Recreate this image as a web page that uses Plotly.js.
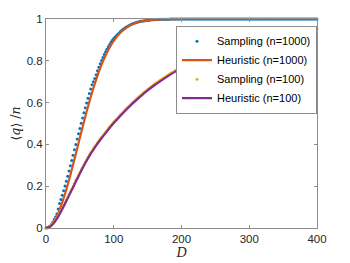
<!DOCTYPE html>
<html>
<head>
<meta charset="utf-8">
<script src="https://cdn.plot.ly/plotly-3.0.1.min.js"></script>
<style>
html,body{margin:0;padding:0;background:#fff;}
#chart{width:350px;height:263px;}
</style>
</head>
<body>
<div id="chart"></div>
<script>
// Sampling grid (D values) for both sampling series
var dSample = [0,2,4,6,8,10,12,14,16,18,20,22,24,26,28,30,32,34,36,38,40,42,44,46,48,50,52,54,56,58,60,62,64,66,68,70,72,74,76,78,80,82,84,86,88,90,92,94,96,98,100,
  102,104,106,108,110,112,114,116,118,120,122,124,126,128,130,132,134,136,138,140,142,144,146,148,150,152,154,156,158,160,162,164,166,168,170,172,174,176,178,180,182,184,186,188,190,192,194,196,198,200,
  202,204,206,208,210,212,214,216,218,220,222,224,226,228,230,232,234,236,238,240,242,244,246,248,250,252,254,256,258,260,262,264,266,268,270,272,274,276,278,280,282,284,286,288,290,292,294,296,298,300,
  302,304,306,308,310,312,314,316,318,320,322,324,326,328,330,332,334,336,338,340,342,344,346,348,350,352,354,356,358,360,362,364,366,368,370,372,374,376,378,380,382,384,386,388,390,392,394,396,398,400];

// Sampling (n=1000)
var sampling1000 = [0,0.0014,0.0046,0.0095,0.0162,0.027,0.0404,0.0529,0.0669,0.0906,0.1174,
  0.1367,0.1572,0.1786,0.201,0.2241,0.248,0.2724,0.2973,0.3226,0.3481,
  0.3739,0.3996,0.4254,0.451,0.4765,0.5017,0.5265,0.551,0.5748,0.5982,
  0.621,0.6431,0.6646,0.6853,0.7003,0.715,0.7338,0.7518,0.769,0.7854,
  0.801,0.8158,0.8299,0.8431,0.8556,0.8673,0.8783,0.8885,0.8981,0.907,
  0.9134,0.9193,0.9267,0.9336,0.9399,0.9457,0.951,0.9559,0.9604,0.9645,
  0.9682,0.9716,0.9747,0.9774,0.98,0.9822,0.9843,0.9861,0.9877,0.9889,
  0.9899,0.9908,0.9919,0.9929,0.9938,0.9946,0.9953,0.9959,0.9965,0.9969,
  0.9974,0.9977,0.998,0.9983,0.9986,0.9988,0.999,0.9991,0.9992,0.9993,
  0.9994,0.9995,0.9995,0.9996,0.9996,0.9997,0.9997,0.9998,0.9998,1,
  1,1,1,1,1,1,1,1,1,1, 1,1,1,1,1,1,1,1,1,1, 1,1,1,1,1,1,1,1,1,1, 1,1,1,1,1,1,1,1,1,1, 1,1,1,1,1,1,1,1,1,1,
  1,1,1,1,1,1,1,1,1,1, 1,1,1,1,1,1,1,1,1,1, 1,1,1,1,1,1,1,1,1,1, 1,1,1,1,1,1,1,1,1,1, 1,1,1,1,1,1,1,1,1,1];

// Sampling (n=100)
var sampling100 = [0,0.001,0.004,0.009,0.014,0.022,0.029,0.038,0.048,0.058,0.070,
  0.084,0.096,0.108,0.121,0.134,0.146,0.161,0.174,0.186,0.199,
  0.213,0.228,0.239,0.252,0.266,0.279,0.290,0.303,0.316,0.327,
  0.338,0.350,0.360,0.369,0.380,0.390,0.398,0.408,0.418,0.427,
  0.434,0.441,0.451,0.459,0.467,0.476,0.483,0.490,0.499,0.507,
  0.513,0.520,0.528,0.536,0.543,0.548,0.555,0.563,0.570,0.576,
  0.581,0.587,0.595,0.601,0.606,0.612,0.619,0.625,0.630,0.635,
  0.641,0.647,0.652,0.657,0.663,0.668,0.672,0.677,0.683,0.688,
  0.692,0.696,0.701,0.706,0.710,0.714,0.719,0.723,0.727,0.731,
  0.736,0.740,0.743,0.747,0.751,0.755,0.758,0.761,0.766,0.770,
  0.772,0.775,0.779,0.783,0.786,0.789,0.792,0.796,0.799,0.802,
  0.805,0.808,0.811,0.813,0.816,0.820,0.822,0.824,0.828,0.831,
  0.832,0.834,0.837,0.840,0.842,0.844,0.847,0.850,0.852,0.854,
  0.856,0.859,0.861,0.862,0.864,0.867,0.869,0.870,0.873,0.876,
  0.877,0.878,0.880,0.883,0.884,0.885,0.888,0.890,0.891,0.893,
  0.895,0.897,0.898,0.899,0.901,0.903,0.904,0.905,0.908,0.910,
  0.910,0.911,0.913,0.915,0.915,0.916,0.918,0.920,0.921,0.922,
  0.923,0.925,0.925,0.926,0.928,0.929,0.929,0.930,0.932,0.934,
  0.934,0.935,0.937,0.938,0.938,0.939,0.940,0.942,0.942,0.943,
  0.944,0.945,0.945,0.946,0.947,0.949,0.949,0.950,0.951,0.952];

// Heuristic (n=1000)
var dHeur1000 = [0,5,10,15,20,25,30,35,40,45,50,55,60,65,70,75,80,85,90,95,100,110,120,130,140,150,160,170,180,190,200,250,300,350,400];
var heuristic1000 = [0,0.0056,0.0223,0.0496,0.0865,0.1318,0.1842,0.2420,0.3036,0.3674,0.4318,0.4954,0.5570,0.6154,0.6698,0.7197,0.7648,0.8048,0.8399,0.8701,0.8957,0.9352,0.9615,0.9781,0.9881,0.9938,0.9969,0.9985,0.9993,0.9997,0.9999,1,1,1,1];

// Heuristic (n=100)
var dHeur100 = [0,5,10,15,20,25,30,35,40,45,50,55,60,65,70,75,80,90,100,110,120,130,140,150,160,170,180,190,200,220,240,260,280,300,320,340,360,380,400];
var heuristic100 = [0,0.005,0.018,0.039,0.066,0.097,0.129,0.162,0.195,0.228,0.261,0.293,0.322,0.350,0.375,0.399,0.421,0.4625,0.502,0.5375,0.571,0.602,0.631,0.658,0.683,0.7055,0.727,0.747,0.765,0.798,0.826,0.850,0.871,0.889,0.905,0.918,0.929,0.939,0.948];

var seriesNames = ['Sampling (n=1000)','Heuristic (n=1000)','Sampling (n=100)','Heuristic (n=100)'];
var xTicks = [0,100,200,300,400];
var yTicks = [0,0.2,0.4,0.6,0.8,1];
var yTickText = ['0','0.2','0.4','0.6','0.8','1'];

var traces = [
  {x:dSample, y:sampling1000, name:seriesNames[0], type:'scatter', mode:'markers',
   marker:{color:'#0072BD', size:3}, cliponaxis:false},
  {x:dHeur1000, y:heuristic1000, name:seriesNames[1], type:'scatter', mode:'lines',
   line:{color:'#D95319', width:2.2, shape:'spline', smoothing:0.6}, cliponaxis:false},
  {x:dSample, y:sampling100, name:seriesNames[2], type:'scatter', mode:'markers',
   marker:{color:'#EDB120', size:3}, cliponaxis:false},
  {x:dHeur100, y:heuristic100, name:seriesNames[3], type:'scatter', mode:'lines',
   line:{color:'#7E2F8E', width:2.2, shape:'spline', smoothing:0.6}, cliponaxis:false}
];

var axisCommon = {
  showgrid:false, zeroline:false, showline:true, linecolor:'#8c8c8c', linewidth:1,
  mirror:'allticks', ticks:'inside', ticklen:3, tickcolor:'#8c8c8c', tickwidth:1,
  tickfont:{family:'Liberation Sans, Arial, sans-serif', size:11.5, color:'#262626'}
};

var layout = {
  width:350, height:263,
  margin:{l:46, r:33, t:19, b:35},
  paper_bgcolor:'#ffffff', plot_bgcolor:'#ffffff',
  showlegend:true,
  legend:{x:1, xanchor:'right', y:0.968, yanchor:'top',
    bgcolor:'#ffffff', bordercolor:'#8c8c8c', borderwidth:1,
    font:{family:'Liberation Sans, Arial, sans-serif', size:11, color:'#000'},
    tracegroupgap:0, itemwidth:30},
  xaxis:Object.assign({}, axisCommon, {
    range:[0,400], tickvals:xTicks, ticktext:xTicks.map(String),
    title:{text:'<i>D</i>', standoff:2, font:{family:'Liberation Serif, Times New Roman, serif', size:14, color:'#262626'}}
  }),
  yaxis:Object.assign({}, axisCommon, {
    range:[0,1], tickvals:yTicks, ticktext:yTickText,
    title:{text:'⟨<i>q</i>⟩ /<i>n</i>', standoff:3, font:{family:'DejaVu Serif, Liberation Serif, serif', size:12.5, color:'#262626'}}
  })
};

Plotly.newPlot('chart', traces, layout, {displayModeBar:false, staticPlot:true});
</script>
</body>
</html>
